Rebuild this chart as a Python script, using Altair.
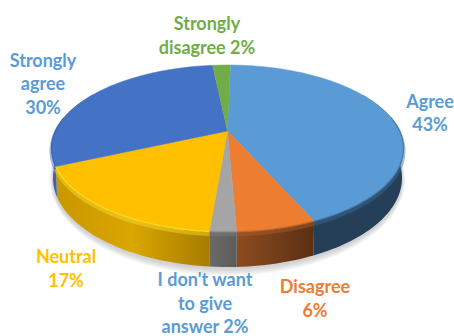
import math
import altair as alt
import pandas as pd

# Survey responses, clockwise from twelve o'clock
categories = ["Agree", "Disagree", "I don't want to give answer", "Neutral", "Strongly agree", "Strongly disagree"]
shares = [43, 6, 2, 17, 30, 2]
top_colors = ["#5B9BD5", "#ED7D31", "#A5A5A5", "#FFC000", "#4472C4", "#70AD47"]
rim_colors = ["#3F6F9C", "#B4602A", "#7F7F7F", "#FFE12E", "#3A64AE", "#5F933D"]
wall_stops = [
    ["#243F57", "#243F57"],
    ["#8E4C20", "#5A2F13"],
    ["#6A6A6A", "#5C5C5C"],
    ["#C99700", "#DAA600", "#A67C00"],
    ["#3A64AE", "#3A64AE"],
    ["#5F933D", "#5F933D"],
]
label_text = [
    "Agree\n43%",
    "Disagree\n6%",
    "I don't want\nto give\nanswer 2%",
    "Neutral\n17%",
    "Strongly\nagree\n30%",
    "Strongly\ndisagree 2%",
]
label_colors = ["#5B9BD5", "#ED7D31", "#5B9BD5", "#FFC000", "#5B9BD5", "#70AD47"]
label_x = [430, 315, 205, 66, 43, 207]
label_y = [102.5, 288, 281, 258, 61.5, 25]

W, H = 454, 336
CX = 227.5
TILT = -0.21          # perspective strength of the tilted disc
START_DEG = 1.2       # first slice angle
TOP = dict(cy=148.5, ry=83.5, rx=176.0)
BOTTOM = dict(cy=178.0, ry=89.0, rx=174.5)
X_SCALE = alt.Scale(domain=[0, W], nice=False, zero=False)
Y_SCALE = alt.Scale(domain=[H, 0], nice=False, zero=False)


def project(deg, cy, ry, rx):
    """Map an angle on the pie's rim to the picture plane."""
    t = math.radians(deg)
    u, v = math.sin(t), -math.cos(t)
    w = 1 + TILT * v
    return CX + rx * math.sqrt(1 - TILT ** 2) * u / w, cy + ry * (v + TILT) / w


def arc(a0, a1, ring):
    n = max(2, int(abs(a1 - a0) / 1.5) + 1)
    return [project(a0 + (a1 - a0) * i / (n - 1), **ring) for i in range(n)]


def shape(points, color_fill, width=0.6, stroke=None, opacity=1.0):
    df = pd.DataFrame(points, columns=["x", "y"]).assign(i=range(len(points)))
    return alt.Chart(df).mark_line(
        fill=color_fill, stroke=stroke or "transparent", strokeWidth=width, opacity=opacity, strokeJoin="round"
    ).encode(
        x=alt.X("x:Q", scale=X_SCALE, axis=None),
        y=alt.Y("y:Q", scale=Y_SCALE, axis=None),
        order=alt.Order("i:Q"),
    )


def stroke_line(points, color, width, opacity=1.0):
    df = pd.DataFrame(points, columns=["x", "y"]).assign(i=range(len(points)))
    return alt.Chart(df).mark_line(stroke=color, strokeWidth=width, opacity=opacity).encode(
        x=alt.X("x:Q", scale=X_SCALE, axis=None),
        y=alt.Y("y:Q", scale=Y_SCALE, axis=None),
        order=alt.Order("i:Q"),
    )


def h_gradient(stops):
    return alt.Gradient(
        gradient="linear", x1=0, x2=1, y1=0, y2=0,
        stops=[alt.GradientStop(offset=i / (len(stops) - 1), color=c) for i, c in enumerate(stops)],
    )


# Slice boundaries in degrees
edges = [START_DEG]
for s in shares:
    edges.append(edges[-1] + s * 3.6)

layers = []

# Soft shadow under the disc, strongest along the front
for grow in (7, 5.5, 4, 2.5, 1):
    ring = dict(cy=BOTTOM["cy"] + 1.5, ry=BOTTOM["ry"] + grow, rx=BOTTOM["rx"] + grow * 0.45)
    layers.append(shape(arc(0, 360, ring), "#7A7A7A", opacity=0.07))

# Outer walls, with the back part hidden by the top face
for i, stops in enumerate(wall_stops):
    a0, a1 = edges[i], edges[i + 1]
    a0v, a1v = max(a0, 60), min(a1, 300)
    if a1v <= a0v:
        continue
    poly = arc(a0v, a1v, TOP) + arc(a1v, a0v, BOTTOM)
    layers.append(shape(poly, h_gradient(stops)))

# Bevel just under the rim
for i, color in enumerate(rim_colors):
    a0, a1 = max(edges[i], 75), min(edges[i + 1], 285)
    if a1 <= a0:
        continue
    lower = dict(TOP, cy=TOP["cy"] + 2.5)
    layers.append(stroke_line(arc(a0, a1, lower), color, 4, 0.45))

# Top faces
centre = (CX, TOP["cy"] + TOP["ry"] * TILT)
for i, color in enumerate(top_colors):
    poly = [centre] + arc(edges[i], edges[i + 1], TOP)
    layers.append(shape(poly, color, stroke=color, width=0.5))

# Rim highlight
for i, color in enumerate(rim_colors):
    a0, a1 = max(edges[i], 80), min(edges[i + 1], 280)
    if a1 <= a0:
        continue
    layers.append(stroke_line(arc(a0, a1, TOP), color, 1.3, 0.7))

# Data labels
labels = pd.DataFrame({"label": label_text, "color": label_colors, "px": label_x, "py": label_y})
text = alt.Chart(labels).mark_text(
    font="Lato", fontWeight="bold", fontSize=18, lineBreak="\n", lineHeight=23.5, align="center", baseline="middle"
).encode(
    x=alt.X("px:Q", scale=X_SCALE, axis=None),
    y=alt.Y("py:Q", scale=Y_SCALE, axis=None),
    text="label:N",
    color=alt.Color("color:N", scale=None),
)
layers.append(text)

chart = alt.layer(*layers).properties(
    width=W, height=H, padding=0, autosize=alt.AutoSizeParams(type="none"), background="white"
).configure_view(stroke=None)

chart.save("out.html", embed_options={"renderer": "svg", "actions": False})
